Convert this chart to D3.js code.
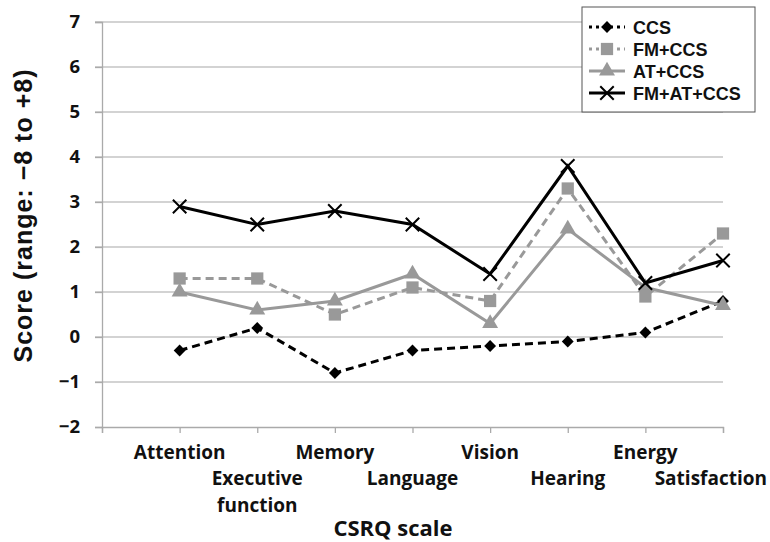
<!DOCTYPE html>
<html>
<head>
<meta charset="utf-8">
<script src="https://cdn.jsdelivr.net/npm/d3@7"></script>
<style>
  body { margin: 0; background: #fff; }
  svg { display: block; }
</style>
</head>
<body>
<div class="chart"></div>
<script>
const categories = ['Attention', 'Executive function', 'Memory', 'Language', 'Vision', 'Hearing', 'Energy', 'Satisfaction'];
const ccs = [-0.3, 0.2, -0.8, -0.3, -0.2, -0.1, 0.1, 0.8];
const fmCcs = [1.3, 1.3, 0.5, 1.1, 0.8, 3.3, 0.9, 2.3];
const atCcs = [1.0, 0.6, 0.8, 1.4, 0.3, 2.4, 1.1, 0.7];
const fmAtCcs = [2.9, 2.5, 2.8, 2.5, 1.4, 3.8, 1.2, 1.7];
const yTicks = [-2, -1, 0, 1, 2, 3, 4, 5, 6, 7];

const width = 770, height = 542;
const plotLeft = 102, plotRight = 723, plotTop = 22, plotBottom = 427;
const labelFont = '"Open Sans", sans-serif';
const arialFont = '"Liberation Sans", Arial, sans-serif';

const series = [
  { name: 'CCS', values: ccs, color: '#000', dash: '8,5', marker: 'diamond' },
  { name: 'FM+CCS', values: fmCcs, color: '#999', dash: '8,5', marker: 'square' },
  { name: 'AT+CCS', values: atCcs, color: '#999', dash: null, marker: 'triangle' },
  { name: 'FM+AT+CCS', values: fmAtCcs, color: '#000', dash: null, marker: 'cross' }
];

const svg = d3.select('.chart').append('svg')
  .attr('width', width).attr('height', height);

// categories sit on ticks 1..8, tick 0 is the left axis
const x = d3.scaleLinear().domain([0, categories.length]).range([plotLeft, plotRight]);
const y = d3.scaleLinear().domain([-2, 7]).range([plotBottom, plotTop]);

// gridlines
svg.append('g').selectAll('line')
  .data(yTicks.filter(d => d > -2))
  .enter().append('line')
  .attr('x1', plotLeft - 7).attr('x2', plotRight)
  .attr('y1', d => y(d)).attr('y2', d => y(d))
  .attr('stroke', '#c4c4c4').attr('stroke-width', 1.3);

// y axis
const yAxis = svg.append('g')
  .attr('transform', `translate(${plotLeft},0)`)
  .call(d3.axisLeft(y).tickValues(yTicks).tickSize(7).tickPadding(15).tickFormat(d3.format('d')));
yAxis.select('.domain').attr('stroke', '#aaa').attr('stroke-width', 1.3);
yAxis.selectAll('.tick line').attr('stroke', '#aaa').attr('stroke-width', 1.3);
yAxis.selectAll('.tick text')
  .attr('font-family', labelFont).attr('font-weight', 'bold')
  .attr('font-size', 18.5).attr('fill', '#111');

// x axis
const xAxis = svg.append('g')
  .attr('transform', `translate(0,${plotBottom})`)
  .call(d3.axisBottom(x).tickValues(d3.range(0, categories.length + 1)).tickSize(6).tickFormat(''));
xAxis.select('.domain').attr('stroke', '#aaa').attr('stroke-width', 1.3);
xAxis.selectAll('.tick line').attr('stroke', '#aaa').attr('stroke-width', 1.3);

// category labels, staggered on two rows
const labels = svg.append('g')
  .attr('font-family', labelFont).attr('font-weight', 'bold')
  .attr('font-size', 19).attr('fill', '#111').attr('text-anchor', 'middle');
categories.forEach((c, i) => {
  const words = c === 'Executive function' ? ['Executive', 'function'] : [c];
  const t = labels.append('text')
    .attr('y', i % 2 === 0 ? 459 : 485);
  words.forEach((w, k) => {
    t.append('tspan').attr('dy', k === 0 ? 0 : 27).text(w);
  });
  // keep the last label inside the picture
  const half = t.node().getComputedTextLength() / 2;
  const cx = Math.min(x(i + 1), width - 3 - half);
  t.selectAll('tspan').attr('x', cx);
});

// axis titles
svg.append('text')
  .attr('x', 393).attr('y', 536)
  .attr('text-anchor', 'middle')
  .attr('font-family', labelFont).attr('font-weight', 'bold')
  .attr('font-size', 22).attr('fill', '#111')
  .text('CSRQ scale');

svg.append('text')
  .attr('transform', `translate(32,216) rotate(-90)`)
  .attr('text-anchor', 'middle')
  .attr('font-family', arialFont).attr('font-weight', 'bold')
  .attr('font-size', 25).attr('fill', '#111')
  .attr('textLength', 293).attr('lengthAdjust', 'spacing')
  .text('Score (range:  \u22128 to +8)');

const line = d3.line()
  .x((d, i) => x(i + 1))
  .y(d => y(d));

function drawMarker(g, type, color, cx, cy) {
  if (type === 'diamond') {
    g.append('path')
      .attr('d', d3.symbol(d3.symbolSquare, 70)())
      .attr('transform', `translate(${cx},${cy}) rotate(45)`)
      .attr('fill', color);
  } else if (type === 'square') {
    g.append('path')
      .attr('d', d3.symbol(d3.symbolSquare, 150)())
      .attr('transform', `translate(${cx},${cy})`)
      .attr('fill', color);
  } else if (type === 'triangle') {
    g.append('path')
      .attr('d', d3.symbol(d3.symbolTriangle, 110)())
      .attr('transform', `translate(${cx},${cy})`)
      .attr('fill', color);
  } else {
    g.append('path')
      .attr('d', d3.symbol(d3.symbolTimes, 120)())
      .attr('transform', `translate(${cx},${cy})`)
      .attr('fill', 'none').attr('stroke', color).attr('stroke-width', 2);
  }
}

// series
series.forEach(s => {
  const g = svg.append('g');
  g.append('path')
    .datum(s.values)
    .attr('d', line)
    .attr('fill', 'none')
    .attr('stroke', s.color)
    .attr('stroke-width', 3)
    .attr('stroke-dasharray', s.dash);
  s.values.forEach((v, i) => drawMarker(g, s.marker, s.color, x(i + 1), y(v)));
});

// legend
const legend = svg.append('g');
legend.append('rect')
  .attr('x', 582).attr('y', 7).attr('width', 173).attr('height', 105)
  .attr('fill', '#fff').attr('stroke', '#555').attr('stroke-width', 1);
series.forEach((s, i) => {
  const ly = 27 + i * 22;
  legend.append('line')
    .attr('x1', 589).attr('x2', 625).attr('y1', ly).attr('y2', ly)
    .attr('stroke', s.color).attr('stroke-width', 3)
    .attr('stroke-dasharray', s.dash ? '3,4' : null);
  drawMarker(legend, s.marker, s.color, 607, ly);
  legend.append('text')
    .attr('x', 633).attr('y', ly + 6.5)
    .attr('font-family', arialFont).attr('font-weight', 'bold')
    .attr('font-size', 18).attr('fill', '#111')
    .text(s.name);
});
</script>
</body>
</html>
